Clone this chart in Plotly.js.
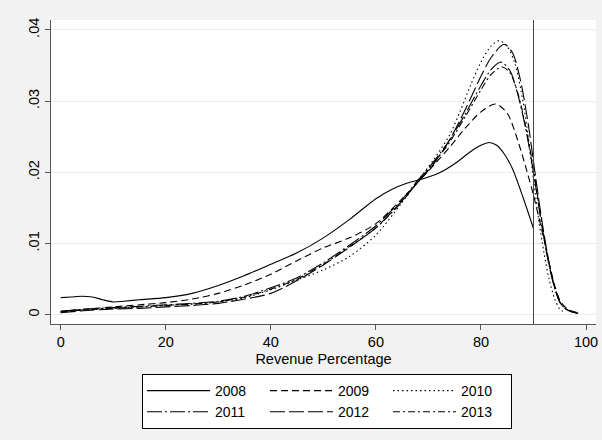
<!DOCTYPE html>
<html>
<head>
<meta charset="utf-8">
<script src="https://cdn.plot.ly/plotly-3.0.1.min.js"></script>
<style>html,body{margin:0;padding:0;background:#f2f2f2;}#chart{width:602px;height:440px;}</style>
</head>
<body>
<div id="chart"></div>
<script>
// Series names (legend labels)
var seriesNames = ["2008", "2009", "2010", "2011", "2012", "2013"];

// 2008 (solid)
var x2008 = [0, 2, 4, 6, 8, 10, 12, 15, 20, 25, 30, 35, 40, 45, 50, 55, 60, 63, 66, 69, 72, 75, 78, 80, 81.5, 83, 84.5, 86, 88, 90];
var y2008 = [0.0024, 0.0025, 0.0026, 0.0025, 0.0021, 0.0018, 0.0019, 0.0021, 0.0024, 0.0030, 0.0041, 0.0055, 0.0071, 0.0087, 0.0108, 0.0134, 0.0163, 0.0176, 0.0185, 0.0191, 0.0199, 0.0212, 0.0229, 0.0238, 0.0242, 0.0238, 0.0225, 0.0205, 0.0165, 0.0121];

// 2009 (dash)
var x2009 = [0, 5, 10, 15, 20, 25, 30, 35, 40, 45, 50, 55, 60, 65, 70, 74, 77, 80, 82.8, 85, 87, 89, 90, 91, 92, 93, 94, 95, 96, 97, 98.5];
var y2009 = [0.0005, 0.0008, 0.0011, 0.0014, 0.0017, 0.0022, 0.0030, 0.0042, 0.0057, 0.0076, 0.0094, 0.0108, 0.0128, 0.0163, 0.0202, 0.0235, 0.0262, 0.0285, 0.0296, 0.0283, 0.0245, 0.0195, 0.0168, 0.0137, 0.0106, 0.0072, 0.0042, 0.0021, 0.0011, 0.0006, 0.0003];

// 2010 (dot)
var x2010 = [0, 5, 10, 15, 20, 25, 30, 35, 40, 45, 50, 55, 60, 65, 68, 71, 74, 76, 78, 80, 82, 83.5, 85, 86.5, 88, 89, 90, 91, 92, 93, 94, 95, 96];
var y2010 = [0.0004, 0.0007, 0.0009, 0.0011, 0.0013, 0.0015, 0.0018, 0.0024, 0.0035, 0.0049, 0.0063, 0.0082, 0.0112, 0.0158, 0.0188, 0.0218, 0.0252, 0.0285, 0.0322, 0.0355, 0.0378, 0.0385, 0.0377, 0.0352, 0.0300, 0.0250, 0.0190, 0.0133, 0.0087, 0.0049, 0.0023, 0.0008, 0.0003];

// 2011 (long dash-dot)
var x2011 = [0, 5, 10, 15, 20, 25, 30, 35, 40, 45, 50, 55, 60, 65, 68, 71, 74, 77, 80, 82, 83.8, 85.5, 87, 88.5, 90, 91, 92, 93, 94, 95, 96, 97, 98.5];
var y2011 = [0.0005, 0.0008, 0.0010, 0.0012, 0.0014, 0.0016, 0.0019, 0.0026, 0.0038, 0.0052, 0.0073, 0.0098, 0.0125, 0.0162, 0.0189, 0.0215, 0.0245, 0.0282, 0.0322, 0.0345, 0.0355, 0.0343, 0.0310, 0.0262, 0.0200, 0.0152, 0.0107, 0.0068, 0.0038, 0.0018, 0.0009, 0.0005, 0.0002];

// 2012 (long dash)
var x2012 = [0, 5, 10, 15, 20, 25, 30, 35, 40, 45, 50, 55, 60, 65, 68, 71, 74, 77, 80, 82, 84.4, 86, 87.5, 89, 90, 91, 92, 93, 94, 95, 96, 97, 98.5];
var y2012 = [0.0003, 0.0006, 0.0008, 0.0009, 0.0011, 0.0013, 0.0016, 0.0022, 0.0030, 0.0048, 0.0070, 0.0095, 0.0122, 0.0160, 0.0186, 0.0212, 0.0245, 0.0288, 0.0335, 0.0362, 0.0380, 0.0368, 0.0330, 0.0268, 0.0215, 0.0162, 0.0113, 0.0072, 0.0040, 0.0018, 0.0009, 0.0005, 0.0002];

// 2013 (dash-dot)
var x2013 = [0, 5, 10, 15, 20, 25, 30, 35, 40, 45, 50, 55, 60, 65, 68, 71, 74, 77, 80, 82, 84, 85.5, 87, 88.5, 90, 91, 92, 93, 94, 95, 96, 97, 98.5];
var y2013 = [0.0004, 0.0007, 0.0009, 0.0011, 0.0013, 0.0015, 0.0018, 0.0025, 0.0036, 0.0050, 0.0071, 0.0096, 0.0122, 0.0159, 0.0187, 0.0213, 0.0242, 0.0278, 0.0316, 0.0338, 0.0348, 0.0340, 0.0312, 0.0265, 0.0205, 0.0156, 0.0110, 0.0070, 0.0039, 0.0018, 0.0009, 0.0005, 0.0002];

// Axis ticks
var xTickVals = [0, 20, 40, 60, 80, 100];
var yTickVals = [0, 0.01, 0.02, 0.03, 0.04];
var yTickText = ["0", ".01", ".02", ".03", ".04"];
var refLineX = 90;

var xs = [x2008, x2009, x2010, x2011, x2012, x2013];
var ys = [y2008, y2009, y2010, y2011, y2012, y2013];
var dashes = ["solid", "7px,4px", "1.5px,3px", "15px,3px,2px,3px", "15px,4px", "7px,3px,2px,3px"];
var groups = ["c1", "c2", "c3", "c1", "c2", "c3"];

var FONT = "Liberation Sans, Arial, Helvetica, sans-serif";
var traces = seriesNames.map(function (n, i) {
  return {
    type: "scatter", mode: "lines", name: n,
    x: xs[i], y: ys[i],
    legendgroup: groups[i],
    line: {color: "#000000", width: 1.1, dash: dashes[i], shape: "spline", smoothing: 0.8},
    hoverinfo: "skip"
  };
});

var layout = {
  width: 602, height: 440,
  paper_bgcolor: "#f2f2f2", plot_bgcolor: "#ffffff",
  margin: {l: 51, r: 6, t: 20, b: 116},
  font: {family: FONT, size: 14.5, color: "#000000"},
  showlegend: true,
  xaxis: {
    range: [-1.85, 101.9], tickvals: xTickVals, ticks: "outside", ticklen: 5,
    tickcolor: "#555555", showline: true, linecolor: "#555555", linewidth: 1,
    showgrid: false, zeroline: false, tickfont: {size: 14.5},
    title: {text: "Revenue Percentage", font: {size: 14.5}, standoff: 4}
  },
  yaxis: {
    range: [-0.0013, 0.0414], tickvals: yTickVals, ticktext: yTickText, tickangle: -90,
    ticks: "outside", ticklen: 5, tickcolor: "#555555", showline: true, linecolor: "#555555",
    linewidth: 1, showgrid: true, gridcolor: "#ebebeb", gridwidth: 1, zeroline: false,
    tickfont: {size: 14.5}
  },
  legend: {
    orientation: "h", traceorder: "grouped", x: 0.167, xanchor: "left",
    y: -0.1645, yanchor: "top", bgcolor: "#ffffff", bordercolor: "#000000",
    borderwidth: 1, itemwidth: 63, entrywidth: 45, font: {size: 14}, tracegroupgap: 0
  },
  shapes: [{
    type: "line", xref: "x", yref: "paper", x0: refLineX, x1: refLineX, y0: 0, y1: 1,
    line: {color: "#444444", width: 1}
  }]
};

Plotly.newPlot("chart", traces, layout, {displayModeBar: false, staticPlot: true});
</script>
</body>
</html>
